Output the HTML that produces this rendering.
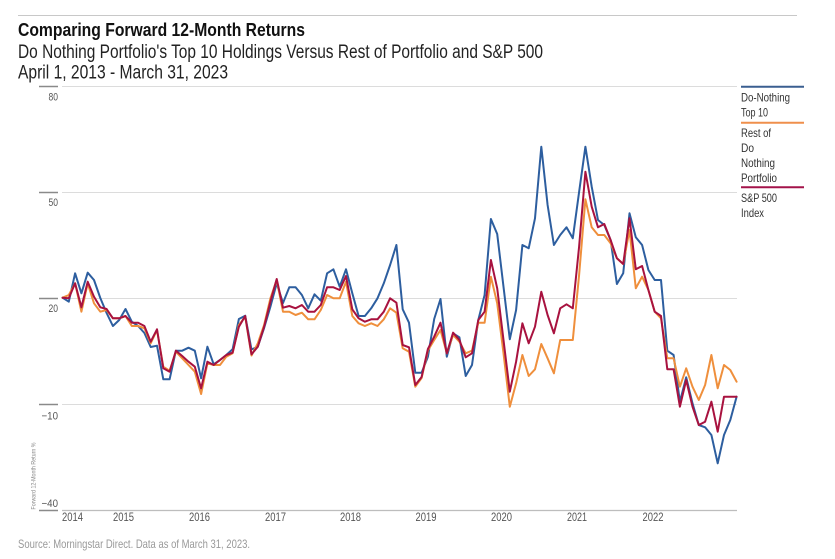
<!DOCTYPE html>
<html>
<head>
<meta charset="utf-8">
<style>
html,body{margin:0;padding:0;background:#fff;}
body{width:835px;height:559px;overflow:hidden;}
svg{display:block;}
text{font-family:"Liberation Sans",sans-serif;}
</style>
</head>
<body>
<svg width="835" height="559" viewBox="0 0 835 559" xmlns="http://www.w3.org/2000/svg">
  <!-- top separator -->
  <line x1="18" y1="15.5" x2="797" y2="15.5" stroke="#c8c8c8" stroke-width="1"/>
  <!-- titles -->
  <text x="18" y="36" font-size="18" font-weight="bold" fill="#111" textLength="287" lengthAdjust="spacingAndGlyphs">Comparing Forward 12-Month Returns</text>
  <text x="18" y="58" font-size="19" fill="#222" textLength="525" lengthAdjust="spacingAndGlyphs">Do Nothing Portfolio's Top 10 Holdings Versus Rest of Portfolio and S&amp;P 500</text>
  <text x="18" y="78.5" font-size="19" fill="#222" textLength="210" lengthAdjust="spacingAndGlyphs">April 1, 2013 - March 31, 2023</text>

  <!-- gridlines -->
  <g stroke="#dcdcdc" stroke-width="1">
    <line x1="62" y1="86.5" x2="737" y2="86.5"/>
    <line x1="62" y1="192.5" x2="737" y2="192.5"/>
    <line x1="62" y1="298.5" x2="737" y2="298.5"/>
    <line x1="62" y1="404.5" x2="737" y2="404.5"/>
  </g>
  <line x1="62" y1="510.5" x2="737" y2="510.5" stroke="#bdbdbd" stroke-width="1.2"/>
  <!-- tick marks -->
  <g stroke="#8a8a8a" stroke-width="1.5">
    <line x1="39" y1="86.5" x2="58" y2="86.5"/>
    <line x1="39" y1="192.5" x2="58" y2="192.5"/>
    <line x1="39" y1="298.5" x2="58" y2="298.5"/>
    <line x1="39" y1="404.5" x2="58" y2="404.5"/>
    <line x1="39" y1="510.5" x2="58" y2="510.5"/>
  </g>
  <!-- y labels -->
  <g font-size="11" fill="#555" text-anchor="end">
    <text x="58" y="100.5" textLength="9.5" lengthAdjust="spacingAndGlyphs">80</text>
    <text x="58" y="206" textLength="9.5" lengthAdjust="spacingAndGlyphs">50</text>
    <text x="58" y="312" textLength="9.5" lengthAdjust="spacingAndGlyphs">20</text>
    <text x="58" y="419.5" textLength="16.5" lengthAdjust="spacingAndGlyphs">−10</text>
    <text x="58" y="507" textLength="16.5" lengthAdjust="spacingAndGlyphs">−40</text>
  </g>
  <!-- y-axis title -->
  <text transform="translate(35.5,476) rotate(-90)" font-size="6" fill="#888" text-anchor="middle" textLength="67" lengthAdjust="spacingAndGlyphs">Forward 12-Month Return %</text>

  <!-- x labels -->
  <g font-size="11.5" fill="#555">
    <text x="62" y="521" textLength="21" lengthAdjust="spacingAndGlyphs">2014</text>
    <text x="113" y="521" textLength="21" lengthAdjust="spacingAndGlyphs">2015</text>
    <text x="189" y="521" textLength="21" lengthAdjust="spacingAndGlyphs">2016</text>
    <text x="265" y="521" textLength="21" lengthAdjust="spacingAndGlyphs">2017</text>
    <text x="340" y="521" textLength="21" lengthAdjust="spacingAndGlyphs">2018</text>
    <text x="415.5" y="521" textLength="21" lengthAdjust="spacingAndGlyphs">2019</text>
    <text x="491" y="521" textLength="21" lengthAdjust="spacingAndGlyphs">2020</text>
    <text x="567" y="521" textLength="20" lengthAdjust="spacingAndGlyphs">2021</text>
    <text x="642.5" y="521" textLength="21" lengthAdjust="spacingAndGlyphs">2022</text>
  </g>

  <!-- series -->
  <g fill="none" stroke-width="2" stroke-linejoin="round" stroke-linecap="round">
    <polyline stroke="#2d5e9f" points="62.5,297.7 68.8,301.7 75.1,273.3 81.4,293.3 87.7,272.7 94,280 100.3,298 106.6,313 112.9,326 119.2,320 125.5,309 131.8,321.7 138.1,326 144.4,333 150.7,347 157,345.7 163.3,379.3 169.6,379.3 175.9,350.7 182.2,350.7 188.5,347.7 194.8,350.7 201.1,378.3 207.4,346.7 213.7,364.3 220,360 226.3,355 232.6,349.3 238.9,319 245.2,315.7 251.5,349.5 257.8,346.7 264.1,328 270.4,306.7 276.7,283.3 283,303 289.3,287.3 295.6,287.3 301.9,295 308.2,308.3 314.5,294.3 320.8,300.7 327.1,273.3 333.4,269.3 339.7,286.7 346,269.3 352.3,293.3 358.6,316 364.9,316 371.2,308.3 377.5,298.3 383.8,283.3 390.1,265 396.4,245 402.7,309.3 409,322.7 415.3,372.7 421.6,372.7 427.9,356.7 434.2,319 440.5,299 446.8,356.7 453.1,333.3 459.4,337.3 465.7,376 472,365 478.3,320 484.6,295 490.9,219 497.2,234 503.5,286.7 509.8,339.3 516.1,310 522.4,245 528.7,248.3 535,218.3 541.3,146.7 547.6,205 553.9,245 560.2,235 566.5,227.3 572.8,238.3 579.1,192 585.4,146.7 591.7,186.7 598,220 604.3,225 610.6,240 616.9,284 623.2,273.3 629.5,213.3 635.8,237.3 642.1,245 648.4,270 654.7,280 661,280 667.3,350.7 673.6,355 679.9,401.7 686.2,377.3 692.5,403.3 698.8,425 705.1,427.3 711.4,435 717.7,463.3 724,435 730.3,420 736.6,396.7"/>
    <polyline stroke="#ef8f3c" points="62.5,297.7 68.8,295 75.1,283.3 81.4,311.7 87.7,283.3 94,303.3 100.3,311.7 106.6,310 112.9,318.3 119.2,318.3 125.5,316 131.8,326 138.1,326 144.4,328.3 150.7,343.3 157,330 163.3,366.7 169.6,370.7 175.9,351.7 182.2,358.3 188.5,365 194.8,371.7 201.1,394 207.4,363.3 213.7,365 220,365 226.3,356.7 232.6,353.3 238.9,325 245.2,316.7 251.5,355.5 257.8,343.3 264.1,325 270.4,298.3 276.7,280 283,311.7 289.3,311.7 295.6,315 301.9,312.7 308.2,319.3 314.5,319.3 320.8,310 327.1,295 333.4,298.3 339.7,298.3 346,281.7 352.3,316 358.6,323.3 364.9,326 371.2,323.3 377.5,326 383.8,319.3 390.1,308.3 396.4,312.7 402.7,348.3 409,351.7 415.3,386.7 421.6,378 427.9,350.5 434.2,340 440.5,330 446.8,353.3 453.1,335 459.4,341.7 465.7,353.3 472,350.7 478.3,322.7 484.6,322.7 490.9,276.7 497.2,303.3 503.5,353.3 509.8,406.7 516.1,383.3 522.4,355 528.7,376 535,369.3 541.3,344 547.6,358.3 553.9,373.3 560.2,340 566.5,340 572.8,340 579.1,275 585.4,199.3 591.7,227.3 598,235 604.3,235 610.6,243.3 616.9,258.3 623.2,264 629.5,230 635.8,288.3 642.1,276.7 648.4,290 654.7,311.7 661,318.3 667.3,358.3 673.6,358.3 679.9,386.7 686.2,368.3 692.5,386.7 698.8,400 705.1,385 711.4,355 717.7,388.3 724,365 730.3,370 736.6,381.7"/>
    <polyline stroke="#a8123f" points="62.5,297.7 68.8,298.3 75.1,283.3 81.4,307.3 87.7,281.7 94,296.7 100.3,307.3 106.6,309 112.9,318.3 119.2,318.3 125.5,316 131.8,322.7 138.1,322.7 144.4,326 150.7,341.7 157,329.3 163.3,368.3 169.6,371.7 175.9,350.7 182.2,356 188.5,361.7 194.8,366.7 201.1,388.3 207.4,361.7 213.7,365 220,360 226.3,355 232.6,352.7 238.9,326.7 245.2,316 251.5,354.3 257.8,346.7 264.1,326.7 270.4,301.7 276.7,279 283,307.7 289.3,306 295.6,308.3 301.9,305 308.2,311.7 314.5,311.7 320.8,305 327.1,287.3 333.4,287.3 339.7,290 346,276 352.3,309.3 358.6,318.3 364.9,321.7 371.2,319.3 377.5,319.3 383.8,311.7 390.1,298.3 396.4,302.7 402.7,345 409,347.3 415.3,385 421.6,377 427.9,349 434.2,336.7 440.5,322.7 446.8,353.3 453.1,332.7 459.4,340 465.7,357.3 472,353.3 478.3,320 484.6,311.7 490.9,260 497.2,288.3 503.5,340 509.8,391.7 516.1,361.7 522.4,323.3 528.7,343.3 535,326.7 541.3,291.7 547.6,315 553.9,333.3 560.2,308.3 566.5,304.3 572.8,308.3 579.1,246.7 585.4,171.7 591.7,206.7 598,227.3 604.3,224 610.6,240 616.9,258.3 623.2,264 629.5,218.3 635.8,269.3 642.1,266 648.4,290 654.7,311.7 661,316 667.3,369.3 673.6,369.3 679.9,406.7 686.2,380 692.5,406.7 698.8,425 705.1,421.7 711.4,401.7 717.7,431.7 724,396.7 730.3,396.7 736.6,396.7"/>
  </g>

  <!-- legend -->
  <line x1="741" y1="86.7" x2="804" y2="86.7" stroke="#3a5f90" stroke-width="2"/>
  <line x1="741" y1="122.7" x2="804" y2="122.7" stroke="#ef8f4c" stroke-width="2"/>
  <line x1="741" y1="187.3" x2="804" y2="187.3" stroke="#a3134a" stroke-width="2"/>
  <g font-size="12" fill="#333">
    <text x="741" y="101.5" textLength="49" lengthAdjust="spacingAndGlyphs">Do-Nothing</text>
    <text x="741" y="116.5" textLength="27" lengthAdjust="spacingAndGlyphs">Top 10</text>
    <text x="741" y="137" textLength="30" lengthAdjust="spacingAndGlyphs">Rest of</text>
    <text x="741" y="152" textLength="13" lengthAdjust="spacingAndGlyphs">Do</text>
    <text x="741" y="167" textLength="34" lengthAdjust="spacingAndGlyphs">Nothing</text>
    <text x="741" y="182" textLength="36" lengthAdjust="spacingAndGlyphs">Portfolio</text>
    <text x="741" y="202" textLength="36" lengthAdjust="spacingAndGlyphs">S&amp;P 500</text>
    <text x="741" y="217" textLength="23" lengthAdjust="spacingAndGlyphs">Index</text>
  </g>

  <!-- source -->
  <text x="18" y="548" font-size="12" fill="#999" textLength="232" lengthAdjust="spacingAndGlyphs">Source: Morningstar Direct. Data as of March 31, 2023.</text>
</svg>
</body>
</html>
